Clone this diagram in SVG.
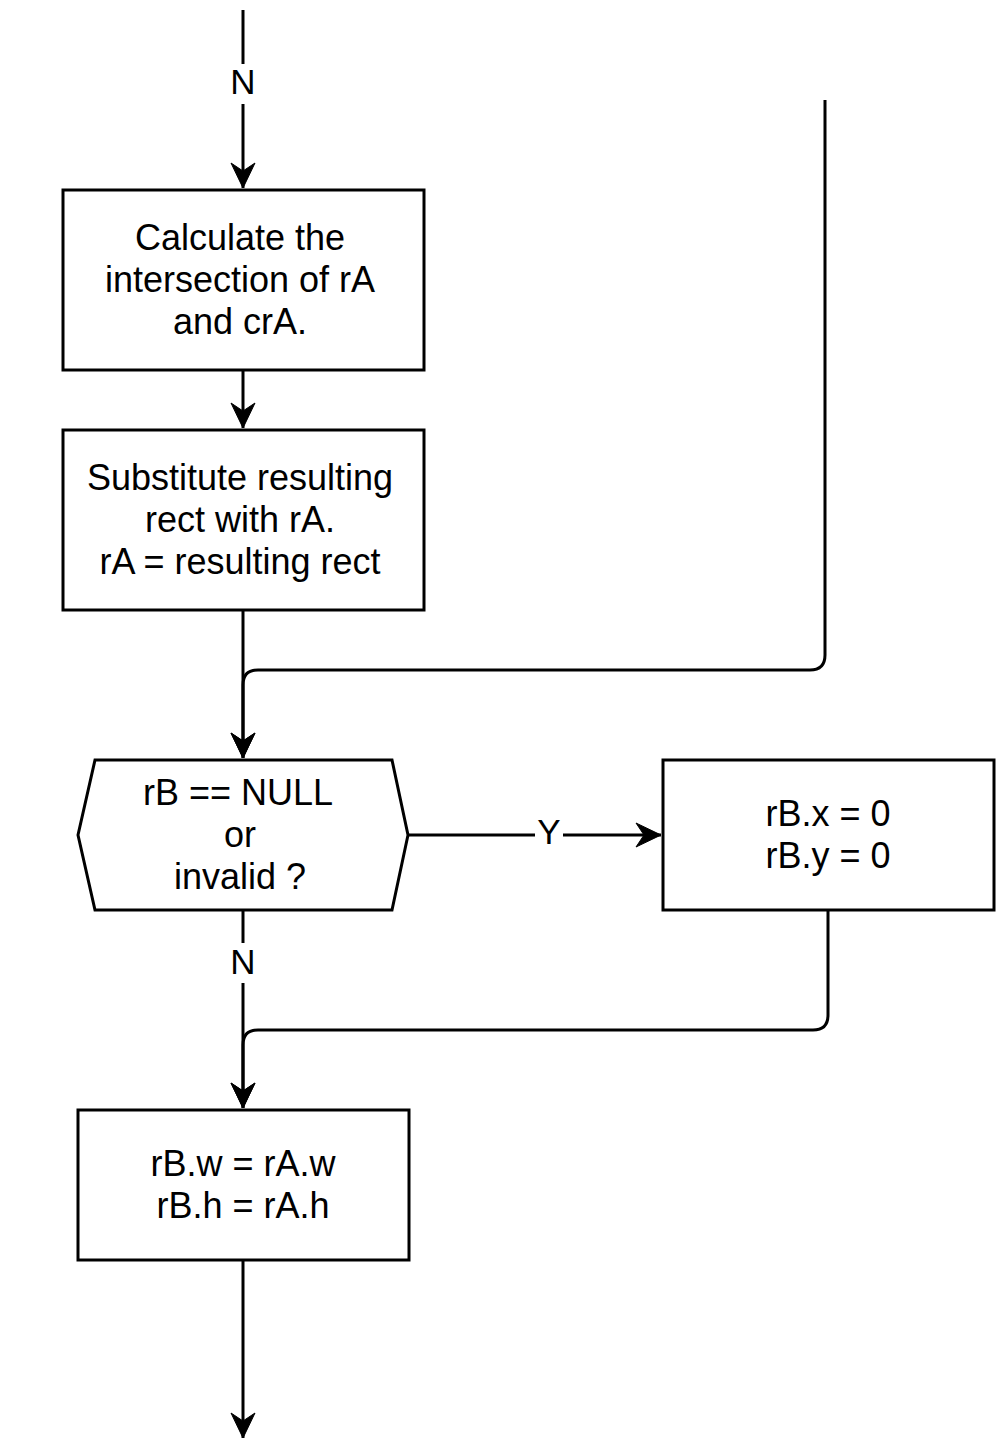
<svg xmlns="http://www.w3.org/2000/svg" width="996" height="1447" viewBox="0 0 996 1447">
  <style>
    .shape { fill: #ffffff; stroke: #000000; stroke-width: 3; }
    .edge { fill: none; stroke: #000000; stroke-width: 3; }
    .txt { font-family: "Liberation Sans", Arial, Helvetica, sans-serif; font-size: 36px; fill: #000000; text-anchor: middle; }
    .lbl { font-family: "Liberation Sans", Arial, Helvetica, sans-serif; font-size: 35px; fill: #000000; text-anchor: middle; }
    .lblbg { fill: #ffffff; stroke: none; }
  </style>
  <defs>
    <marker id="arrow" markerUnits="userSpaceOnUse" markerWidth="26" markerHeight="26" refX="25" refY="12" orient="auto" overflow="visible">
      <path d="M25,12 L0,0 L8,12 L0,24 Z" fill="#000000" stroke="#000000" stroke-width="1" stroke-linejoin="miter"/>
    </marker>
  </defs>
  <rect width="996" height="1447" fill="#ffffff"/>

  <g id="connectors">
    <path class="edge" d="M243,10 L243,188" marker-end="url(#arrow)"/>
    <rect class="lblbg" x="228" y="64" width="30" height="40"/>
    <text class="lbl" x="243" y="94">N</text>

    <path class="edge" d="M243,370 L243,428" marker-end="url(#arrow)"/>

    <path class="edge" d="M243,610 L243,758" marker-end="url(#arrow)"/>
    <path class="edge" d="M825,100 L825,655 Q825,670 810,670 L258,670 Q243,670 243,685 L243,758" marker-end="url(#arrow)"/>

    <path class="edge" d="M408,835 L661,835" marker-end="url(#arrow)"/>
    <rect class="lblbg" x="535" y="815" width="28" height="34"/>
    <text class="lbl" x="549" y="844">Y</text>

    <path class="edge" d="M243,910 L243,1108" marker-end="url(#arrow)"/>
    <rect class="lblbg" x="228" y="943" width="30" height="40"/>
    <text class="lbl" x="243" y="974">N</text>

    <path class="edge" d="M828,910 L828,1015 Q828,1030 813,1030 L258,1030 Q243,1030 243,1045 L243,1108" marker-end="url(#arrow)"/>

    <path class="edge" d="M243,1260 L243,1438" marker-end="url(#arrow)"/>
  </g>

  <g id="node-calc">
    <rect class="shape" x="63" y="190" width="361" height="180"/>
    <text class="txt" x="240" y="250">Calculate the</text>
    <text class="txt" x="240" y="292">intersection of rA</text>
    <text class="txt" x="240" y="334">and crA.</text>
  </g>

  <g id="node-substitute">
    <rect class="shape" x="63" y="430" width="361" height="180"/>
    <text class="txt" x="240" y="490">Substitute resulting</text>
    <text class="txt" x="240" y="532">rect with rA.</text>
    <text class="txt" x="240" y="574">rA = resulting rect</text>
  </g>

  <g id="node-decision">
    <polygon class="shape" points="95,760 392,760 408,835 392,910 95,910 78,835"/>
    <text class="txt" x="238" y="805">rB == NULL</text>
    <text class="txt" x="240" y="847">or</text>
    <text class="txt" x="240" y="889">invalid ?</text>
  </g>

  <g id="node-xy">
    <rect class="shape" x="663" y="760" width="331" height="150"/>
    <text class="txt" x="828" y="826">rB.x = 0</text>
    <text class="txt" x="828" y="868">rB.y = 0</text>
  </g>

  <g id="node-wh">
    <rect class="shape" x="78" y="1110" width="331" height="150"/>
    <text class="txt" x="243" y="1176">rB.w = rA.w</text>
    <text class="txt" x="243" y="1218">rB.h = rA.h</text>
  </g>
</svg>
